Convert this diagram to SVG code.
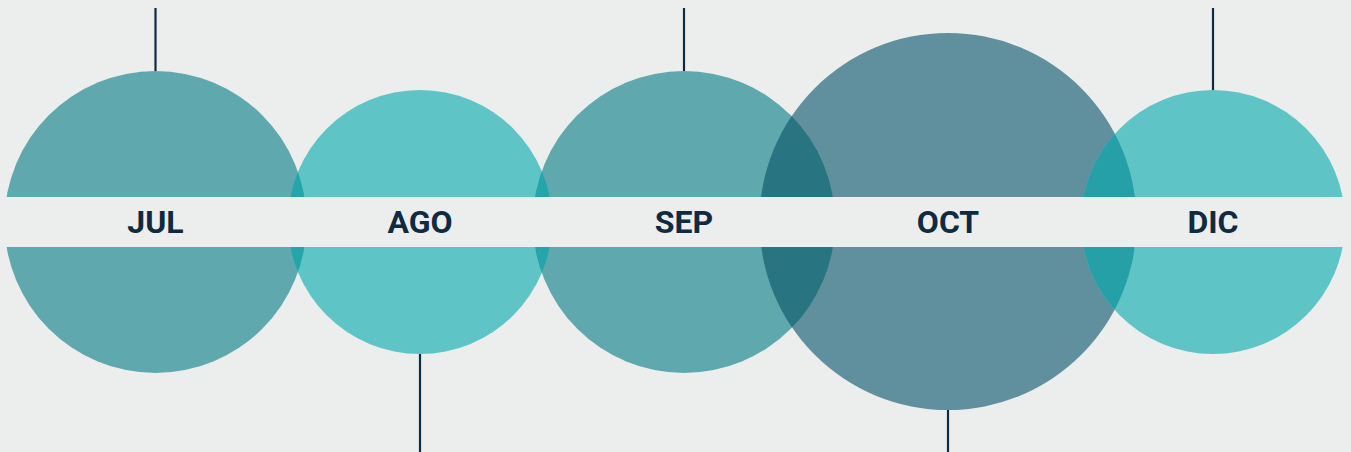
<svg xmlns="http://www.w3.org/2000/svg" width="1351" height="452" viewBox="0 0 1351 452">
<style>
.c1{fill:#5fa8ad}
.c2{fill:#5fc4c6}
.c3{fill:#60909d}
.ov1{fill:#24a5aa}
.ov2{fill:#287581}
.ov3{fill:#25a0a6}
.ln{stroke:#0f2b3f;stroke-width:2.2;fill:none}
.lbl{font-family:Roboto,"Liberation Sans",sans-serif;font-weight:700;font-size:32px;fill:#0f2b3f;text-anchor:middle}
</style>
<defs>
<clipPath id="cJUL"><circle cx="155.5" cy="222" r="151"/></clipPath>
<clipPath id="cAGO"><circle cx="420" cy="222" r="132"/></clipPath>
<clipPath id="cOCT"><circle cx="948" cy="221.5" r="188.5"/></clipPath>
<clipPath id="cDIC"><circle cx="1213" cy="222" r="132"/></clipPath>
</defs>
<rect width="1351" height="452" fill="#eceeed"/>
<g id="JUL"><circle class="c1" cx="155.5" cy="222" r="151"/></g>
<g id="AGO"><circle class="c2" cx="420" cy="222" r="132"/></g>
<g id="SEP"><circle class="c1" cx="684" cy="222" r="151"/></g>
<g id="OCT"><circle class="c3" cx="948" cy="221.5" r="188.5"/></g>
<g id="DIC"><circle class="c2" cx="1213" cy="222" r="132"/></g>
<g id="overlaps">
<circle class="ov1" cx="420" cy="222" r="132" clip-path="url(#cJUL)"/>
<circle class="ov1" cx="684" cy="222" r="151" clip-path="url(#cAGO)"/>
<circle class="ov2" cx="684" cy="222" r="151" clip-path="url(#cOCT)"/>
<circle class="ov3" cx="1213" cy="222" r="132" clip-path="url(#cOCT)"/>
</g>
<rect x="0" y="197" width="1351" height="50" fill="#eceeed"/>
<g id="connectors">
<line class="ln" x1="155.5" y1="8" x2="155.5" y2="71"/>
<line class="ln" x1="420" y1="354" x2="420" y2="452"/>
<line class="ln" x1="684" y1="8" x2="684" y2="71"/>
<line class="ln" x1="948" y1="410" x2="948" y2="452"/>
<line class="ln" x1="1213" y1="8" x2="1213" y2="90"/>
</g>
<g id="labels">
<text class="lbl" x="155.5" y="233">JUL</text>
<text class="lbl" x="420" y="233">AGO</text>
<text class="lbl" x="684" y="233">SEP</text>
<text class="lbl" x="948" y="233">OCT</text>
<text class="lbl" x="1213" y="233">DIC</text>
</g>
</svg>
